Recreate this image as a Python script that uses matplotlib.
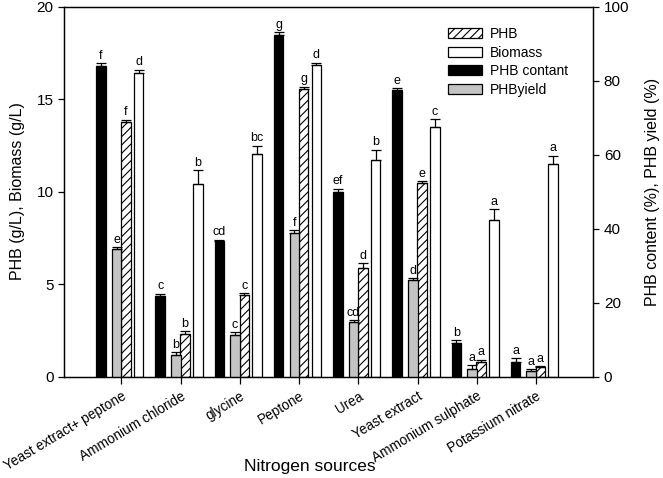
import matplotlib
matplotlib.use("Agg")
import matplotlib.pyplot as plt
import numpy as np
from matplotlib.patches import Patch

plt.rcParams['font.family'] = ['Liberation Sans', 'DejaVu Sans']
plt.rcParams['hatch.linewidth'] = 0.8

sources = ["Yeast extract+ peptone", "Ammonium chloride", "glycine", "Peptone",
           "Urea", "Yeast extract", "Ammonium sulphate", "Potassium nitrate"]

phb = [13.76, 2.32, 4.40, 15.56, 5.86, 10.47, 0.77, 0.50]
phb_err = [0.13, 0.12, 0.10, 0.10, 0.27, 0.09, 0.13, 0.05]
biomass = [16.40, 10.39, 12.04, 16.86, 11.71, 13.46, 8.46, 11.46]
biomass_err = [0.18, 0.75, 0.43, 0.10, 0.54, 0.45, 0.58, 0.48]
content = [83.8, 21.8, 36.5, 92.4, 50.0, 77.5, 9.1, 3.9]
content_err = [0.9, 0.6, 0.5, 0.7, 0.75, 0.45, 0.7, 1.0]
phb_yield = [34.4, 5.9, 11.1, 38.9, 14.6, 26.1, 2.1, 1.4]
phb_yield_err = [0.5, 0.6, 0.8, 0.7, 0.7, 0.5, 1.0, 0.6]

lab_phb = ["f", "b", "c", "g", "d", "e", "a", "a"]
lab_biomass = ["d", "b", "bc", "d", "b", "c", "a", "a"]
lab_content = ["f", "c", "cd", "g", "ef", "e", "b", "a"]
lab_yield = ["e", "b", "c", "f", "cd", "d", "a", "a"]

fig = plt.figure(figsize=(6.63, 4.78), dpi=100)
ax = fig.add_axes([0.0965, 0.2123, 0.7985, 0.7741])
ax2 = ax.twinx()

x = np.arange(len(sources))
w = 0.16
off_content = -0.345
off_yield = -0.08
off_phb = 0.076
off_bio = 0.292

ekw = dict(elinewidth=0.9, capthick=0.9, ecolor='black')
cap = 3.5

def bars(axis, pos, vals, errs, labels, **kw):
    axis.bar(pos, vals, w, edgecolor='black', linewidth=0.9, **kw)
    axis.errorbar(pos, vals, yerr=[np.zeros(len(vals)), errs], fmt='none',
                  capsize=cap, **ekw)
    for xi, v, e, t in zip(pos, vals, errs, labels):
        axis.annotate(t, (xi, v + e), xytext=(0, 1), textcoords='offset points',
                      ha='center', va='bottom', fontsize=9)

bars(ax, x + off_phb, phb, phb_err, lab_phb, color='white', hatch='////')
bars(ax, x + off_bio, biomass, biomass_err, lab_biomass, color='white')
bars(ax2, x + off_content, content, content_err, lab_content, color='black')
bars(ax2, x + off_yield, phb_yield, phb_yield_err, lab_yield, color='#c4c4c4')

ax.set_xlim(-0.97, 7.97)
ax.set_ylim(0, 20)
ax2.set_ylim(0, 100)
ax.set_yticks([0, 5, 10, 15, 20])
ax2.set_yticks([0, 20, 40, 60, 80, 100])
ax.set_xticks(x)
ax.set_xticklabels(sources, rotation=31, ha='right', rotation_mode='anchor')
for a in (ax, ax2):
    a.tick_params(direction='out', length=4, width=0.9, labelsize=11)
ax.tick_params(axis='x', length=5, pad=4, labelsize=9.8)
ax.set_ylabel("PHB (g/L), Biomass (g/L)", fontsize=11.5, labelpad=8)
ax2.set_ylabel("PHB content (%), PHB yield (%)", fontsize=11.5, labelpad=11)
fig.text(310 / 663, 1 - 466 / 478, "Nitrogen sources", fontsize=12.5,
         ha='center', va='center')
for a in (ax, ax2):
    for s in a.spines.values():
        s.set_linewidth(0.9)

handles = [Patch(facecolor='white', edgecolor='black', hatch='////', linewidth=0.9),
           Patch(facecolor='white', edgecolor='black', linewidth=0.9),
           Patch(facecolor='black', edgecolor='black', linewidth=0.9),
           Patch(facecolor='#c4c4c4', edgecolor='black', linewidth=0.9)]
ax2.legend(handles, ["PHB", "Biomass", "PHB contant", "PHByield"], loc='upper left',
           bbox_to_anchor=(0.725, 0.944), frameon=False, fontsize=10,
           handlelength=2.45, handleheight=0.75, labelspacing=0.32, handletextpad=0.6,
           borderaxespad=0, borderpad=0)

fig.savefig("out.png", dpi=100)
